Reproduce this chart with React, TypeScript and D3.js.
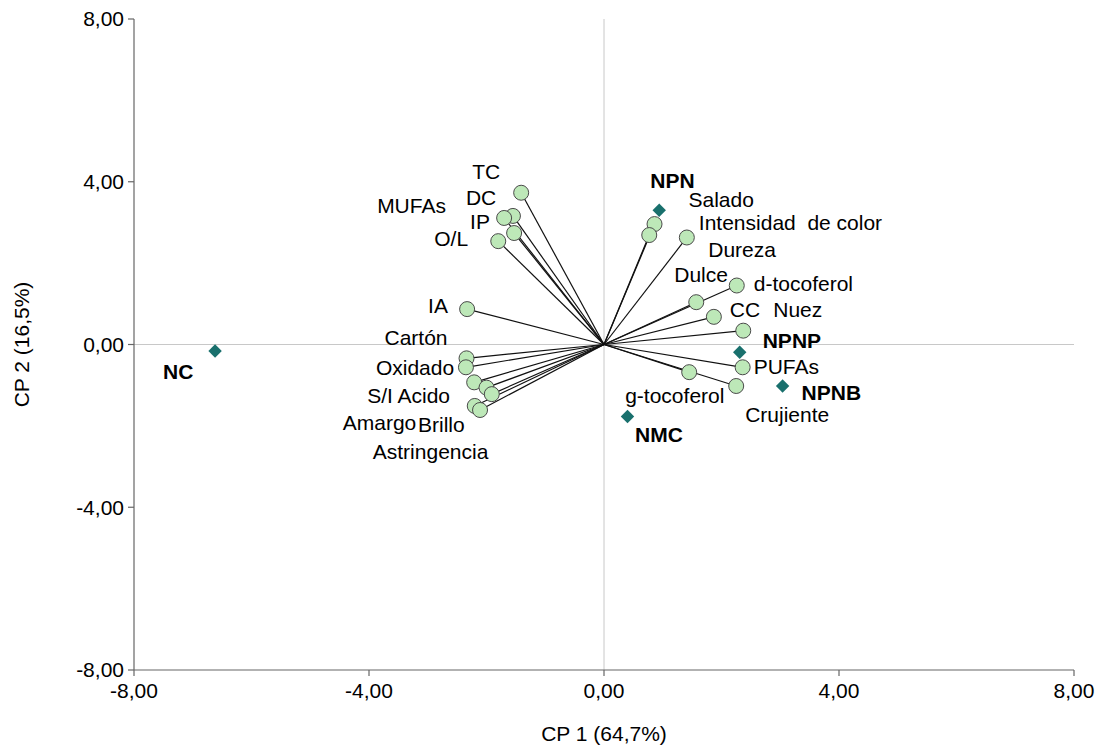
import React from "react";
import * as d3 from "d3";

// Loading vectors (attributes) on the first two principal components
const variableNames = [
  "TC", "DC", "MUFAs", "IP", "O/L", "IA",
  "Cartón", "Oxidado", "S/I", "Acido", "Astringencia", "Amargo", "Brillo",
  "Salado", "Dureza", "Intensidad  de color", "d-tocoferol", "Dulce", "CC", "Nuez",
  "PUFAs", "g-tocoferol", "Crujiente",
];
const variableCP1 = [
  -1.41, -1.55, -1.70, -1.53, -1.80, -2.33,
  -2.34, -2.35, -2.21, -2.00, -1.91, -2.20, -2.11,
  0.86, 0.77, 1.41, 2.26, 1.57, 1.87, 2.37,
  2.36, 1.45, 2.25,
];
const variableCP2 = [
  3.73, 3.16, 3.11, 2.74, 2.54, 0.87,
  -0.34, -0.56, -0.93, -1.06, -1.22, -1.51, -1.61,
  2.96, 2.69, 2.63, 1.45, 1.04, 0.68, 0.34,
  -0.56, -0.68, -1.02,
];

// Sample scores
const sampleNames = ["NPN", "NPNP", "NPNB", "NMC", "NC"];
const sampleCP1 = [0.94, 2.31, 3.04, 0.40, -6.62];
const sampleCP2 = [3.30, -0.19, -1.02, -1.77, -0.16];

// Axis ticks
const tickValues = [-8, -4, 0, 4, 8];
const xTitle = "CP 1 (64,7%)";
const yTitle = "CP 2 (16,5%)";

// Label placement (pixel offset from its marker: left edge, baseline)
const labelOffsets: Record<string, [number, number]> = {
  TC: [-49, -14],
  DC: [-47, -11],
  MUFAs: [-127, -5],
  IP: [-44, -4],
  "O/L": [-64, 5],
  IA: [-39, 4],
  "Cartón": [-82, -13],
  Oxidado: [-90, 8],
  "S/I": [-107, 21],
  Acido: [-89, 15],
  Astringencia: [-119, 65],
  Amargo: [-132, 24],
  Brillo: [-62, 22],
  Salado: [34, -17],
  Dureza: [59, 22],
  "Intensidad  de color": [12, -7.5],
  "d-tocoferol": [17, 5],
  Dulce: [-22, -20],
  CC: [16, 0],
  Nuez: [30, -14],
  PUFAs: [11, 7],
  "g-tocoferol": [-64, 31],
  Crujiente: [9, 36],
  NPN: [-9, -22],
  NPNP: [23, -4],
  NPNB: [19, 14],
  NMC: [7.5, 25.5],
  NC: [-52, 28],
};

const W = 1106;
const H = 748;
const left = 134;
const right = 1074;
const top = 19;
const bottom = 670;
const FONT = "'Liberation Sans', Arial, sans-serif";

const fmt = (v: number) => d3.format(".2f")(v).replace(".", ",").replace("−", "-");

export default function App() {
  const x = d3.scaleLinear().domain([-8, 8]).range([left, right]);
  const y = d3.scaleLinear().domain([-8, 8]).range([bottom, top]);

  const variables = variableNames.map((name, i) => ({
    name,
    cx: x(variableCP1[i]),
    cy: y(variableCP2[i]),
  }));
  const samples = sampleNames.map((name, i) => ({
    name,
    cx: x(sampleCP1[i]),
    cy: y(sampleCP2[i]),
  }));

  const diamond = d3.symbol().type(d3.symbolDiamond2).size(115)();

  return (
    <svg
      width={W}
      height={H}
      style={{ position: "absolute", left: 0, top: 0, background: "#fff" }}
      fontFamily={FONT}
    >
      <rect width={W} height={H} fill="#fff" />

      {/* zero reference lines */}
      <line x1={x(0)} x2={x(0)} y1={top} y2={bottom} stroke="#c8c8c8" strokeWidth={1} />
      <line x1={left} x2={right} y1={y(0)} y2={y(0)} stroke="#c8c8c8" strokeWidth={1} />

      {/* axes */}
      <line x1={left} x2={left} y1={top} y2={bottom} stroke="#666" strokeWidth={1.2} />
      <line x1={left} x2={right} y1={bottom} y2={bottom} stroke="#666" strokeWidth={1.2} />
      {tickValues.map((t) => (
        <g key={"y" + t}>
          <line x1={left - 6} x2={left} y1={y(t)} y2={y(t)} stroke="#666" strokeWidth={1.2} />
          <text x={left - 10} y={y(t)} dy="0.35em" textAnchor="end" fontSize={21} fill="#000">
            {fmt(t)}
          </text>
        </g>
      ))}
      {tickValues.map((t) => (
        <g key={"x" + t}>
          <line x1={x(t)} x2={x(t)} y1={bottom} y2={bottom + 6} stroke="#666" strokeWidth={1.2} />
          <text x={x(t)} y={bottom + 28} textAnchor="middle" fontSize={21} fill="#000">
            {fmt(t)}
          </text>
        </g>
      ))}
      <text x={x(0)} y={741} textAnchor="middle" fontSize={21} fill="#000">
        {xTitle}
      </text>
      <text
        transform={`translate(29, ${y(0)}) rotate(-90)`}
        textAnchor="middle"
        fontSize={21}
        fill="#000"
      >
        {yTitle}
      </text>

      {/* loading vectors */}
      {variables.map((v) => (
        <line key={"l" + v.name} x1={x(0)} y1={y(0)} x2={v.cx} y2={v.cy} stroke="#111" strokeWidth={1.2} />
      ))}
      {variables.map((v) => (
        <circle key={"c" + v.name} cx={v.cx} cy={v.cy} r={7.5} fill="#bde8b8" stroke="#4a4a4a" strokeWidth={1} />
      ))}
      {variables.map((v) => {
        const [dx, dy] = labelOffsets[v.name];
        return (
          <text
            key={"t" + v.name}
            x={v.cx + dx}
            y={v.cy + dy}
            fontSize={21}
            fill="#000"
            style={{ whiteSpace: "pre" }}
          >
            {v.name}
          </text>
        );
      })}

      {/* sample scores */}
      {samples.map((s) => (
        <path key={"d" + s.name} d={diamond ?? ""} transform={`translate(${s.cx},${s.cy})`} fill="#19706d" />
      ))}
      {samples.map((s) => {
        const [dx, dy] = labelOffsets[s.name];
        return (
          <text key={"s" + s.name} x={s.cx + dx} y={s.cy + dy} fontSize={21} fontWeight="bold" fill="#000">
            {s.name}
          </text>
        );
      })}
    </svg>
  );
}
